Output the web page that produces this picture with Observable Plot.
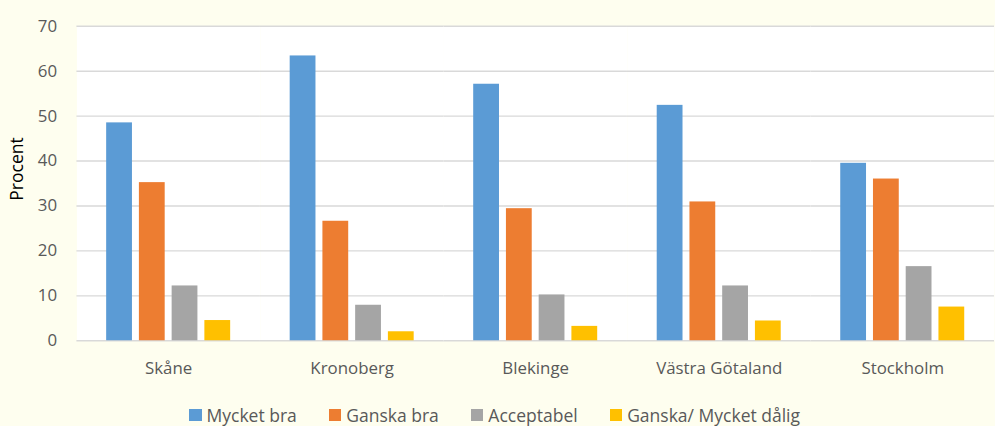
<!DOCTYPE html>
<html>
<head>
<meta charset="utf-8">
<script src="https://cdn.jsdelivr.net/npm/d3@7"></script>
<script src="https://cdn.jsdelivr.net/npm/@observablehq/plot@0.6"></script>
<style>
  html, body { margin: 0; padding: 0; background: #FEFEEF; overflow: hidden; }
  #wrap { position: relative; width: 995px; height: 426px; overflow: hidden; font-family: "Open Sans", sans-serif; }
  #chart { position: absolute; left: 0; top: 0; }
  #ylabel { position: absolute; left: 16px; top: 169px; transform: translate(-50%, -50%) rotate(-90deg); font-size: 17.5px; color: #000; white-space: nowrap; }
  #legend { position: absolute; left: 189px; top: 405px; height: 20px; display: flex; gap: 32px; font-size: 17.5px; line-height: 20px; color: #595959; align-items: center; white-space: nowrap; }
  .item { display: flex; align-items: center; height: 20px; }
  .sw { width: 12.5px; height: 12.5px; margin-right: 5px; }
</style>
</head>
<body>
<div id="wrap">
  <div id="chart"></div>
  <div id="ylabel"></div>
  <div id="legend"></div>
</div>
<script>
const regions = ["Skåne", "Kronoberg", "Blekinge", "Västra Götaland", "Stockholm"];
const series = ["Mycket bra", "Ganska bra", "Acceptabel", "Ganska/ Mycket dålig"];
const mycketBra = [48.5, 63.4, 57.1, 52.4, 39.5];
const ganskaBra = [35.2, 26.6, 29.4, 30.9, 36.0];
const acceptabel = [12.2, 7.9, 10.2, 12.2, 16.5];
const daligt = [4.5, 2.0, 3.2, 4.4, 7.5];
const colors = ["#5B9BD5", "#ED7D31", "#A5A5A5", "#FFC000"];
const yTicks = [0, 10, 20, 30, 40, 50, 60, 70];
const yLabel = "Procent";

const seriesValues = [mycketBra, ganskaBra, acceptabel, daligt];
const rows = regions.flatMap((region, i) =>
  series.map((s, j) => ({region, series: s, value: seriesValues[j][i]}))
);

const chart = Plot.plot({
  width: 1003,
  height: 396,
  marginLeft: 77,
  marginRight: 1,
  marginTop: 26,
  marginBottom: 53,
  facet: {data: rows, x: "region"},
  fx: {domain: regions, padding: 0, label: null, tickSize: 0, tickPadding: 21},
  x: {domain: series, paddingInner: 0.2, paddingOuter: 0.875, axis: null},
  y: {domain: [0, 70], ticks: yTicks, tickSize: 0, tickPadding: 20, label: null},
  color: {domain: series, range: colors},
  style: {background: "transparent", color: "#595959", fontSize: "17px", fontFamily: "Open Sans, sans-serif", overflow: "visible"},
  marks: [
    Plot.frame({fill: "white", stroke: "none"}),
    Plot.ruleY(yTicks, {stroke: "#D9D9D9", strokeWidth: 1.4}),
    Plot.barY(rows, {x: "series", y: "value", fill: "series"})
  ]
});
document.getElementById("chart").appendChild(chart);
document.getElementById("ylabel").textContent = yLabel;

const legend = document.getElementById("legend");
series.forEach((s, j) => {
  const item = document.createElement("div");
  item.className = "item";
  const sw = document.createElement("div");
  sw.className = "sw";
  sw.style.background = colors[j];
  const t = document.createElement("span");
  t.textContent = s;
  item.appendChild(sw);
  item.appendChild(t);
  legend.appendChild(item);
});
</script>
</body>
</html>
